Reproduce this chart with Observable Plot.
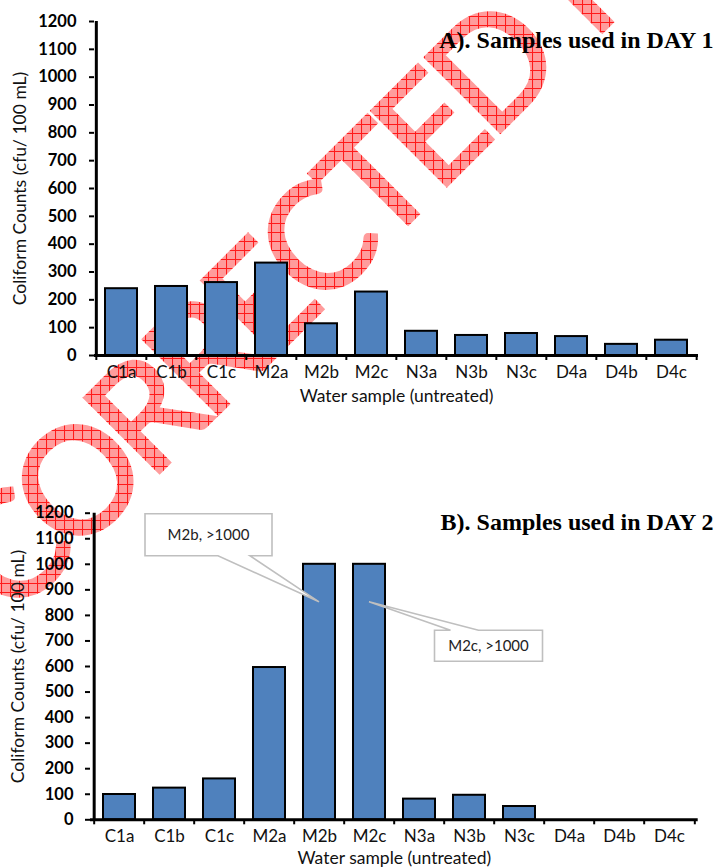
<!DOCTYPE html>
<html>
<head>
<meta charset="utf-8">
<script src="https://cdn.jsdelivr.net/npm/d3@7"></script>
<script src="https://cdn.jsdelivr.net/npm/@observablehq/plot@0.6"></script>
<style>
  html, body { margin: 0; padding: 0; background: #fff; }
  #page { position: relative; width: 715px; height: 867px; overflow: hidden; }
  #wm { position: absolute; left: 0; top: 0; z-index: 0; pointer-events: none; }
  .chart { position: absolute; left: 0; z-index: 1; }
  #chartA { top: 0; }
  #chartB { top: 440px; }
</style>
</head>
<body>
<div id="page">
  <svg id="wm" width="715" height="867">
    <defs>
      <pattern id="hatch" patternUnits="userSpaceOnUse" width="9" height="9" patternTransform="rotate(45)">
        <rect width="9" height="9" fill="#ff9c9c"></rect>
        <path d="M0 0.5H9M0.5 0V9" stroke="#ff1a1a" stroke-width="1.1"></path>
      </pattern>
    </defs>
    <text transform="translate(-26,583) rotate(-45)" dy="0.36em" text-anchor="start" textLength="790" lengthAdjust="spacing"
          font-family="Lato" font-size="148" fill="url(#hatch)" stroke="url(#hatch)" stroke-width="3">CORRECTED</text>
    <text transform="translate(555,4) rotate(-45)" dy="0.36em" text-anchor="start"
          font-family="Lato" font-size="148" fill="url(#hatch)" stroke="url(#hatch)" stroke-width="3">PROOF</text>
  </svg>
  <div id="chartA" class="chart"></div>
  <div id="chartB" class="chart"></div>
</div>
<script>
// ---- data ----
const samples = ["C1a", "C1b", "C1c", "M2a", "M2b", "M2c", "N3a", "N3b", "N3c", "D4a", "D4b", "D4c"];
const day1Values = [240, 248, 262, 332, 114, 228, 87, 72, 79, 68, 40, 55];
const day2Values = [99, 124, 160, 596, 1000, 1000, 81, 96, 52, 0, 0, 0];
const yTicks = [0, 100, 200, 300, 400, 500, 600, 700, 800, 900, 1000, 1100, 1200];
const yDomain = [0, 1200];
const titleA = "A). Samples used in DAY 1";
const titleB = "B). Samples used in DAY 2";
const yTitle = "Coliform Counts (cfu/ 100 mL)";
const xTitle = "Water sample (untreated)";
const calloutSamples = ["M2b", "M2c"];
const calloutTexts = ["M2b, >1000", "M2c, >1000"];

const W = 715;
const BAR = "#4F81BD";

function makeChart(values, opt) {
  const data = samples.map((s, i) => ({sample: s, value: values[i]}));
  const step = (W - opt.ml - opt.mr) / samples.length;
  const marks = [
    Plot.barY(data, {x: "sample", y: "value", fill: BAR, stroke: "#000", strokeWidth: 2}),
    Plot.ruleY([yDomain[0]], {stroke: "#000", strokeWidth: 3}),
    Plot.ruleX([samples[0]], {x: d => d, y1: yDomain[0], y2: yDomain[1], dx: -step / 2, stroke: "#000", strokeWidth: 3}),
    Plot.axisY({ticks: yTicks, tickFormat: d => String(d), tickSize: 5, tickPadding: opt.ytp, fontSize: 16.5, fontWeight: "bold", strokeWidth: 2, label: null}),
    Plot.axisX({tickSize: 5, dx: -step / 2, tickFormat: () => "", strokeWidth: 2, label: null}),
    Plot.axisX({ticks: [samples[samples.length - 1]], tickSize: 5, dx: step / 2, tickFormat: () => "", strokeWidth: 2, label: null}),
    Plot.axisX({tickSize: 0, tickPadding: 10, fontSize: 17, label: null, fill: "#111"}),
    Plot.text([opt.title], {text: d => d, frameAnchor: "top-right", dx: opt.tdx, dy: opt.tdy, lineAnchor: "middle",
      fontFamily: "Liberation Serif", fontWeight: "bold", fontSize: 24}),
    Plot.text([yTitle], {text: d => d, frameAnchor: "left", rotate: -90, dx: opt.ylx, textAnchor: "middle",
      lineAnchor: "middle", fontSize: 17.5, fill: "#111"}),
    Plot.text([xTitle], {text: d => d, frameAnchor: "bottom", dy: opt.xly, lineAnchor: "middle", fontSize: 17.5, fill: "#111"})
  ];
  if (opt.callouts) marks.push(opt.callouts);
  const p = Plot.plot({
    width: W, height: opt.h,
    marginLeft: opt.ml, marginRight: opt.mr, marginTop: opt.mt, marginBottom: opt.mb,
    style: {background: "transparent", fontFamily: "Lato, 'Open Sans', sans-serif", color: "#000", overflow: "visible"},
    x: {domain: samples, paddingInner: 0.36, paddingOuter: 0.18, label: null},
    y: {domain: yDomain, label: null},
    marks
  });
  d3.select(p).selectAll('g[aria-label="y-axis tick label"] text').attr("font-weight", "bold");
  return p;
}

function calloutMark(index, scales) {
  const g = d3.create("svg:g");
  const bw = scales.x.bandwidth ? scales.x.bandwidth() : 0;
  calloutSamples.forEach((s, i) => {
    const v = day2Values[samples.indexOf(s)];
    const tx = scales.x(s) + bw / 2;
    const ty = scales.y(v) + 38;
    let d, cx, cy;
    if (i === 0) {
      const L = tx - 174, T = ty - 88, w = 127, h = 42;
      d = `M${L},${T}H${L + w}V${T + h}H${L + 105}L${tx},${ty}L${L + 73},${T + h}H${L}Z`;
      cx = L + w / 2; cy = T + h / 2;
    } else {
      const L = tx + 65.5, T = ty + 28.5, w = 108, h = 31;
      d = `M${L},${T}H${L + 16}L${tx},${ty}L${L + 44},${T}H${L + w}V${T + h}H${L}Z`;
      cx = L + w / 2; cy = T + h / 2;
    }
    g.append("path").attr("d", d).attr("fill", "#fff").attr("stroke", "#bfbfbf").attr("stroke-width", 1.6);
    g.append("text").attr("x", cx).attr("y", cy).attr("dy", "0.35em").attr("text-anchor", "middle")
      .attr("font-size", 15).attr("fill", "#222").text(calloutTexts[i]);
  });
  return g.node();
}

document.getElementById("chartA").append(makeChart(day1Values, {
  h: 410, ml: 94, mr: 17, mt: 21, mb: 55, ytp: 13, title: titleA, tdx: 15, tdy: 19, ylx: -74, xly: 41
}));
document.getElementById("chartB").append(makeChart(day2Values, {
  h: 427, ml: 90, mr: 17.3, mt: 72.7, mb: 47.7, ytp: 12, title: titleB, tdx: 15.3, tdy: 9.3, ylx: -72.5, xly: 39,
  callouts: calloutMark
}));
</script>
</body>
</html>
